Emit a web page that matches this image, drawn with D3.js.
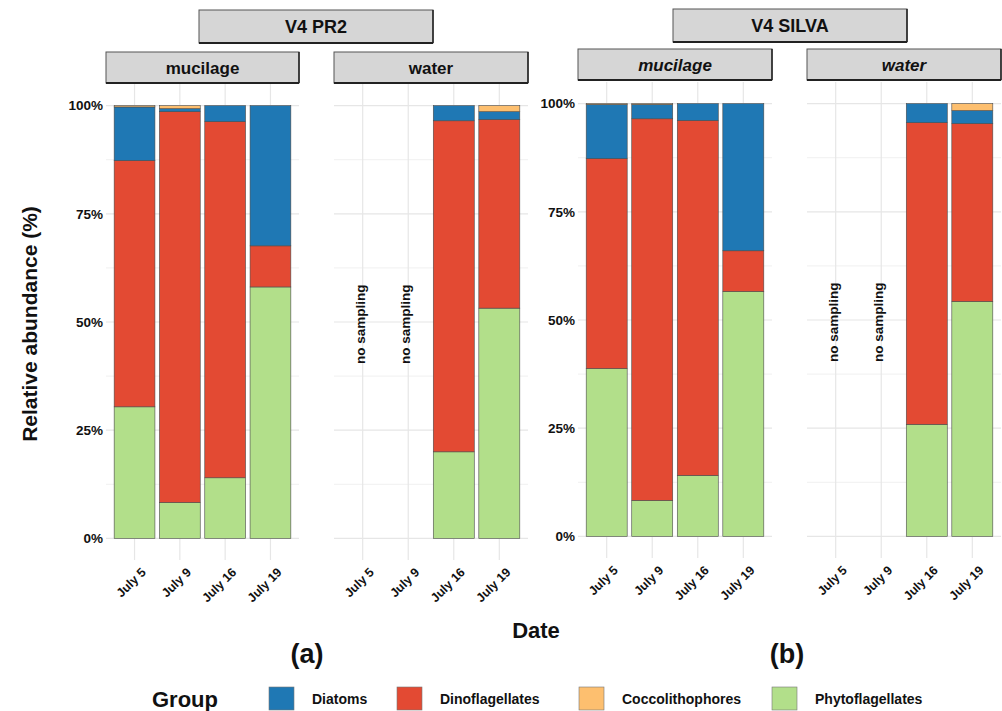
<!DOCTYPE html>
<html>
<head>
    <meta charset="utf-8" />
    <title>Relative abundance</title>
    <style>
        body { margin: 0; background: #fff; }
        svg { display: block; font-family: "Liberation Sans", Arial, sans-serif; }
    </style>
</head>
<body>
    <div id="chart"></div>
    <script src="https://cdn.jsdelivr.net/npm/d3@7"></script>
    <script>
        // ---- data (percent) ----
        var dates = ["July 5", "July 9", "July 16", "July 19"];
        var groups = ["Diatoms", "Dinoflagellates", "Coccolithophores", "Phytoflagellates"];
        var stackOrder = ["Phytoflagellates", "Dinoflagellates", "Diatoms", "Coccolithophores"];
        var groupColors = ["#1f78b4", "#e34a33", "#fdbf6f", "#b2df8a"];
        var yTicks = [0, 25, 50, 75, 100];

        // one row per group (same order as `groups`), one column per date; null = no sampling
        var pr2Mucilage = [
            [12.4, 0.7, 3.7, 32.4],
            [56.9, 90.3, 82.3, 9.5],
            [0.3, 0.7, 0, 0],
            [30.4, 8.3, 14.0, 58.1]
        ];
        var pr2Water = [
            [null, null, 3.5, 1.8],
            [null, null, 76.5, 43.6],
            [null, null, 0, 1.4],
            [null, null, 20.0, 53.2]
        ];
        var silvaMucilage = [
            [12.5, 3.3, 3.9, 34.0],
            [48.5, 88.2, 82.0, 9.4],
            [0.2, 0.2, 0, 0],
            [38.8, 8.3, 14.1, 56.6]
        ];
        var silvaWater = [
            [null, null, 4.4, 3.0],
            [null, null, 69.7, 41.1],
            [null, null, 0, 1.6],
            [null, null, 25.9, 54.3]
        ];

        var W = 1002, H = 711;
        var svg = d3.select("#chart").append("svg")
            .attr("width", W).attr("height", H);

        var color = d3.scaleOrdinal().domain(groups).range(groupColors);

        function toTable(rows) {
            return dates.map(function (d, i) {
                var o = { date: d, missing: rows[0][i] === null };
                groups.forEach(function (g, k) { o[g] = rows[k][i] || 0; });
                return o;
            });
        }

        function stripBox(g, x, y, w, h, label, italic, size) {
            g.append("rect").attr("x", x).attr("y", y).attr("width", w).attr("height", h)
                .attr("fill", "#d6d6d6").attr("stroke", "#555").attr("stroke-width", 1);
            g.append("line").attr("x1", x).attr("x2", x + w).attr("y1", y + h).attr("y2", y + h)
                .attr("stroke", "#222").attr("stroke-width", 2);
            g.append("line").attr("x1", x + w).attr("x2", x + w).attr("y1", y).attr("y2", y + h)
                .attr("stroke", "#222").attr("stroke-width", 1.5);
            g.append("text").attr("x", x + w / 2).attr("y", y + h / 2)
                .attr("dy", "0.36em").attr("text-anchor", "middle")
                .attr("font-size", size).attr("font-weight", "bold")
                .attr("font-style", italic ? "italic" : "normal")
                .attr("fill", "#111").text(label);
        }

        function drawChart(cfg) {
            var g = svg.append("g");
            var y = d3.scaleLinear().domain([-5, 105]).range([cfg.bottom, cfg.top]);

            stripBox(g, cfg.title.x, cfg.title.y, cfg.title.w, 33, cfg.title.text, false, 18);

            cfg.panels.forEach(function (p) {
                var x = d3.scaleBand().domain(dates).range([p.x0, p.x1])
                    .paddingInner(0.1).paddingOuter(0.18);
                var pg = g.append("g");

                // grid
                pg.selectAll("line.minor").data(d3.range(12.5, 100, 25)).join("line")
                    .attr("x1", p.x0).attr("x2", p.x1)
                    .attr("y1", d => y(d)).attr("y2", d => y(d))
                    .attr("stroke", "#f0f0f0").attr("stroke-width", 1);
                pg.selectAll("line.major").data(yTicks).join("line")
                    .attr("x1", p.x0).attr("x2", p.x1)
                    .attr("y1", d => y(d)).attr("y2", d => y(d))
                    .attr("stroke", "#e6e6e6").attr("stroke-width", 1.2);
                pg.selectAll("line.vert").data(dates).join("line")
                    .attr("x1", d => x(d) + x.bandwidth() / 2).attr("x2", d => x(d) + x.bandwidth() / 2)
                    .attr("y1", cfg.top).attr("y2", cfg.bottom)
                    .attr("stroke", "#e6e6e6").attr("stroke-width", 1.2);

                var table = toTable(p.rows);
                var series = d3.stack().keys(stackOrder)(table.filter(d => !d.missing));

                pg.selectAll("g.series").data(series).join("g")
                    .attr("fill", d => color(d.key))
                    .selectAll("rect").data(d => d.filter(s => s[1] - s[0] > 0)).join("rect")
                    .attr("x", d => x(d.data.date))
                    .attr("width", x.bandwidth())
                    .attr("y", d => y(d[1]))
                    .attr("height", d => y(d[0]) - y(d[1]))
                    .attr("stroke", "#4a4a4a").attr("stroke-width", 0.6);

                // no sampling labels
                pg.selectAll("text.ns").data(table.filter(d => d.missing)).join("text")
                    .attr("transform", d => "translate(" + (x(d.date) + x.bandwidth() / 2 + 2) + "," + y(49.5) + ") rotate(-90)")
                    .attr("text-anchor", "middle")
                    .attr("font-size", 13.5).attr("font-weight", "bold").attr("fill", "#111")
                    .text("no sampling");

                // x tick labels
                pg.selectAll("text.xt").data(dates).join("text")
                    .attr("transform", d => "translate(" + (x(d) + x.bandwidth() / 2 + 12) + "," + (cfg.bottom + 13) + ") rotate(-45)")
                    .attr("text-anchor", "end")
                    .attr("font-size", 12.5).attr("font-weight", "bold").attr("fill", "#111")
                    .text(d => d);

                stripBox(pg, p.x0, cfg.stripY, p.x1 - p.x0, 31, p.name, cfg.italic, 17);
            });

            // y tick labels
            g.selectAll("text.yt").data(yTicks).join("text")
                .attr("x", cfg.yLabelX).attr("y", d => y(d)).attr("dy", "0.36em")
                .attr("text-anchor", "end")
                .attr("font-size", 13.5).attr("font-weight", "bold").attr("fill", "#111")
                .text(d => d + "%");

            g.append("text").attr("x", cfg.tagX).attr("y", 663)
                .attr("text-anchor", "middle").attr("font-size", 27).attr("font-weight", "bold")
                .attr("fill", "#111").text(cfg.tag);
        }

        drawChart({
            title: { x: 199, y: 10, w: 234, text: "V4 PR2" },
            stripY: 52, top: 84, bottom: 560, italic: false,
            yLabelX: 103, tag: "(a)", tagX: 307,
            panels: [
                { name: "mucilage", x0: 106, x1: 299, rows: pr2Mucilage },
                { name: "water", x0: 334, x1: 528, rows: pr2Water }
            ]
        });

        drawChart({
            title: { x: 673, y: 9, w: 234, text: "V4 SILVA" },
            stripY: 49, top: 82, bottom: 558, italic: true,
            yLabelX: 575, tag: "(b)", tagX: 787,
            panels: [
                { name: "mucilage", x0: 578, x1: 772, rows: silvaMucilage },
                { name: "water", x0: 807, x1: 1001, rows: silvaWater }
            ]
        });

        // axis titles
        svg.append("text")
            .attr("transform", "translate(37,324) rotate(-90)")
            .attr("text-anchor", "middle").attr("font-size", 21).attr("font-weight", "bold")
            .attr("fill", "#111").text("Relative abundance (%)");

        svg.append("text").attr("x", 536).attr("y", 638)
            .attr("text-anchor", "middle").attr("font-size", 22).attr("font-weight", "bold")
            .attr("fill", "#111").text("Date");

        // legend
        var legend = svg.append("g");
        legend.append("text").attr("x", 152).attr("y", 707)
            .attr("font-size", 22).attr("font-weight", "bold").attr("fill", "#111").text("Group");

        var legendX = [269, 397, 579, 772];
        var items = legend.selectAll("g.item").data(groups).join("g")
            .attr("transform", (d, i) => "translate(" + legendX[i] + ",687)");
        items.append("rect").attr("width", 25).attr("height", 23)
            .attr("fill", d => color(d)).attr("stroke", "#777").attr("stroke-width", 0.6);
        items.append("text").attr("x", 43).attr("y", 12).attr("dy", "0.36em")
            .attr("font-size", 14).attr("font-weight", "bold").attr("fill", "#111").text(d => d);
    </script>
</body>
</html>
